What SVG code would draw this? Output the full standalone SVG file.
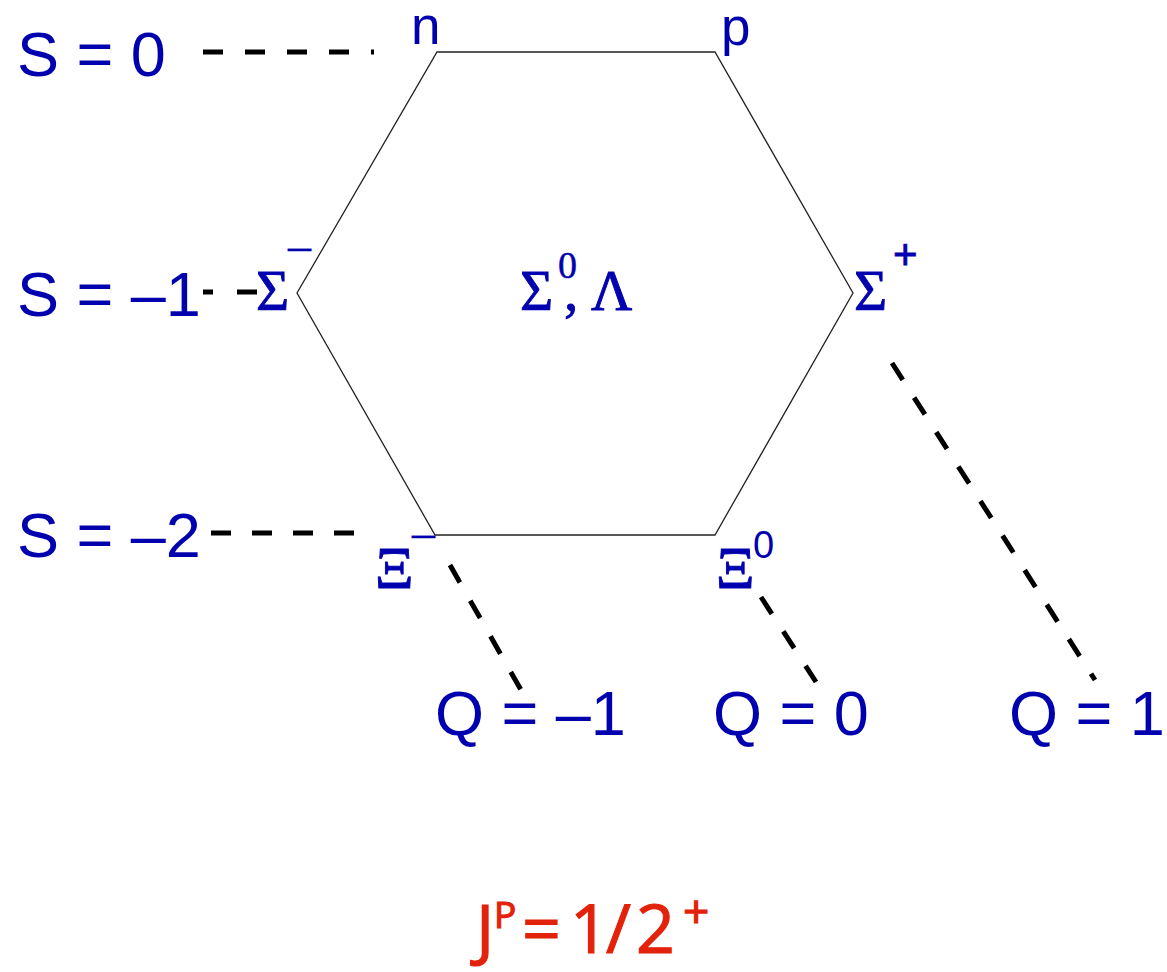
<svg xmlns="http://www.w3.org/2000/svg" width="1167" height="972" viewBox="0 0 1167 972">
<style>
.lbl{font-family:"Liberation Sans",Arial,sans-serif;fill:#0000AF;font-size:63px}
.gr{font-family:"Liberation Serif","Times New Roman",serif;fill:#0000AF;font-size:57px;stroke:#0000AF;stroke-width:0.9}
.sup{font-family:"Liberation Sans",Arial,sans-serif;fill:#0000AF}
.dash{stroke:#000;stroke-width:5;fill:none;stroke-dasharray:20 21}
.jp{font-family:"Open Sans",Lato,sans-serif;fill:#E2220A;stroke:#E2220A;stroke-width:1.2}
</style>
<rect width="1167" height="972" fill="#fff"/>
<g id="hexagon">
<polygon points="437,52 715,52 853,293 715,535 435,535 297,293" fill="none" stroke="#222" stroke-width="1.3"/>
</g>
<g id="connectors">
<path class="dash" d="M203,52 H374" style="stroke-dasharray:20 22"/>
<path class="dash" d="M203,292 H257" style="stroke-dasharray:10 24 20 0"/>
<path class="dash" d="M211,533 H355"/>
<path class="dash" d="M450,565 L521,690"/>
<path class="dash" d="M761,597 L816,682"/>
<path class="dash" d="M892,363 L1095,680"/>
</g>
<g id="strangeness-labels">
<text class="lbl" x="17" y="76">S = 0</text>
<text class="lbl" x="17" y="316">S = –1</text>
<text class="lbl" x="17" y="557">S = –2</text>
</g>
<g id="charge-labels">
<text class="lbl" x="435" y="735">Q = –1</text>
<text class="lbl" x="713" y="735">Q = 0</text>
<text class="lbl" x="1009" y="735">Q = 1</text>
</g>
<g id="node-n"><text class="sup" x="411" y="44" font-size="53">n</text></g>
<g id="node-p"><text class="sup" x="721" y="45" font-size="53">p</text></g>
<g id="node-sigma-minus">
<text class="gr" x="256" y="310">Σ</text>
<text class="gr" x="288" y="261" style="font-size:46px;stroke-width:0.3">–</text>
</g>
<g id="node-sigma0-lambda">
<text class="gr" x="520" y="310">Σ</text>
<text class="gr" x="558" y="278" style="font-size:38px;stroke-width:0.5">0</text>
<text class="gr" x="564" y="310">,</text>
<text class="gr" x="591" y="310">Λ</text>
</g>
<g id="node-sigma-plus">
<text class="gr" x="854" y="310">Σ</text>
<text class="sup" x="893" y="269" font-size="42" stroke="#0000AF" stroke-width="0.8">+</text>
</g>
<g id="node-xi-minus">
<text class="gr" x="375" y="588" style="font-size:60px">Ξ</text>
<text class="gr" x="412" y="548" style="font-size:46px;stroke-width:0.3">–</text>
</g>
<g id="node-xi0">
<text class="gr" x="716" y="588" style="font-size:60px">Ξ</text>
<text class="sup" x="753" y="558" font-size="38">0</text>
</g>
<g id="title">
<text class="jp" font-size="68"><tspan x="476" y="953">J</tspan><tspan x="494" y="928" font-size="37">P</tspan><tspan x="522" y="953">=</tspan><tspan x="570" y="953">1</tspan><tspan x="606" y="953">/</tspan><tspan x="636" y="953">2</tspan><tspan x="683" y="928" font-size="46">+</tspan></text>
</g>
</svg>
